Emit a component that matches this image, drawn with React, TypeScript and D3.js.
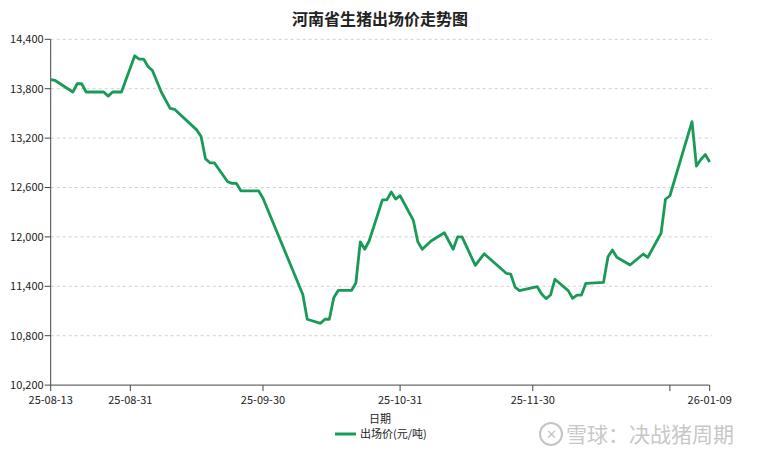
import React from "react";
import * as d3 from "d3";

const dates: string[] = [
  "2025-08-13","2025-08-14","2025-08-18","2025-08-19","2025-08-20","2025-08-21","2025-08-25","2025-08-26","2025-08-27","2025-08-29",
  "2025-09-01","2025-09-02","2025-09-03","2025-09-04","2025-09-05","2025-09-07","2025-09-09","2025-09-10","2025-09-15","2025-09-16",
  "2025-09-17","2025-09-18","2025-09-19","2025-09-22","2025-09-23","2025-09-24","2025-09-25","2025-09-29","2025-09-30","2025-10-09",
  "2025-10-10","2025-10-13","2025-10-14","2025-10-15","2025-10-16","2025-10-17","2025-10-20","2025-10-21","2025-10-22","2025-10-23",
  "2025-10-24","2025-10-27","2025-10-28","2025-10-29","2025-10-30","2025-10-31","2025-11-03","2025-11-04","2025-11-05","2025-11-07",
  "2025-11-10","2025-11-12","2025-11-13","2025-11-14","2025-11-17","2025-11-19","2025-11-24","2025-11-25","2025-11-26","2025-11-27",
  "2025-12-01","2025-12-02","2025-12-03","2025-12-04","2025-12-05","2025-12-08","2025-12-09","2025-12-10","2025-12-11","2025-12-12",
  "2025-12-16","2025-12-17","2025-12-18","2025-12-19","2025-12-22","2025-12-25","2025-12-26","2025-12-29","2025-12-30","2025-12-31",
  "2026-01-05","2026-01-06","2026-01-07","2026-01-08","2026-01-09"
];

const prices: number[] = [
  13910,13900,13760,13860,13860,13760,13760,13710,13760,13760,
  14200,14160,14160,14070,14020,13760,13560,13550,13300,13220,
  12950,12900,12900,12670,12650,12650,12560,12560,12470,11300,
  11000,10950,11000,11000,11260,11350,11350,11440,11940,11850,
  11950,12450,12450,12545,12460,12500,12200,11940,11850,11950,
  12050,11850,12000,12000,11655,11795,11558,11549,11390,11347,
  11395,11306,11250,11294,11485,11347,11254,11294,11294,11436,
  11448,11759,11841,11752,11659,11792,11752,12044,12457,12500,
  13400,12860,12940,13000,12910
];

const yTicks: number[] = [10200, 10800, 11400, 12000, 12600, 13200, 13800, 14400];
const xTickDates: string[] = ["2025-08-13","2025-08-31","2025-09-30","2025-10-31","2025-11-30","2025-12-31","2026-01-09"];
const xTickLabels: string[] = ["25-08-13","25-08-31","25-09-30","25-10-31","25-11-30","","26-01-09"];

const title = "河南省生猪出场价走势图";
const xTitle = "日期";
const seriesName = "出场价(元/吨)";
const watermark = "雪球：决战猪周期";

export default function App() {
  const W = 760, H = 455;
  const left = 50.7, right = 709.7, top = 39.3, bottom = 385.1;
  const parse = d3.utcParse("%Y-%m-%d");
  const x = d3.scaleUtc()
    .domain([parse("2025-08-13")!, parse("2026-01-09")!])
    .range([left, right]);
  const y = d3.scaleLinear().domain([10200, 14400]).range([bottom, top]);
  const data = dates.map((d, i) => ({ d: parse(d)!, v: prices[i] }));
  const line = d3.line<{ d: Date; v: number }>()
    .x((p) => x(p.d))
    .y((p) => y(p.v));
  const font = "'Noto Sans CJK SC', 'Noto Sans', sans-serif";
  const green = "#1a9a57";
  const fmt = d3.format(",");

  return (
    <svg width={W} height={H} style={{ position: "absolute", left: 0, top: 0, background: "#fff" }} fontFamily={font}>
      <text x={380} y={25} textAnchor="middle" fontSize={16} fontWeight="bold" fill="#222">{title}</text>
      {yTicks.slice(1).map((t) => (
        <line key={"g" + t} x1={left} x2={right + 2} y1={y(t)} y2={y(t)} stroke="#d0d0d0" strokeDasharray="3,3" strokeWidth={1} />
      ))}
      {yTicks.map((t) => (
        <g key={"y" + t}>
          <line x1={left - 6} x2={left} y1={y(t)} y2={y(t)} stroke="#444" />
          <text x={left - 7} y={y(t)} dy="0.35em" textAnchor="end" fontSize={11} fill="#222">{fmt(t)}</text>
        </g>
      ))}
      <line x1={left} x2={left} y1={top} y2={bottom} stroke="#444" />
      <line x1={left} x2={right} y1={bottom} y2={bottom} stroke="#444" />
      {xTickDates.map((d, i) => (
        <g key={"x" + d}>
          <line x1={x(parse(d)!)} x2={x(parse(d)!)} y1={bottom} y2={bottom + 6} stroke="#444" />
          <text x={x(parse(d)!)} y={bottom + 19} textAnchor="middle" fontSize={11} fill="#222">{xTickLabels[i]}</text>
        </g>
      ))}
      <path d={line(data) || ""} fill="none" stroke={green} strokeWidth={2.8} strokeLinejoin="round" />
      <text x={380} y={423} textAnchor="middle" fontSize={11} fill="#222">{xTitle}</text>
      <line x1={335} x2={356} y1={434} y2={434} stroke={green} strokeWidth={3} />
      <text x={360} y={434} dy="0.35em" fontSize={11} fill="#222">{seriesName}</text>
      <g>
        <circle cx={551} cy={434} r={11} fill="none" stroke="#c4c4c4" strokeWidth={2} />
        <text x={551} y={434} dy="0.35em" textAnchor="middle" fontSize={13} fill="#c4c4c4">✕</text>
        <text x={566} y={434} dy="0.36em" fontSize={21} fill="#c8c8c8">{watermark}</text>
      </g>
    </svg>
  );
}
